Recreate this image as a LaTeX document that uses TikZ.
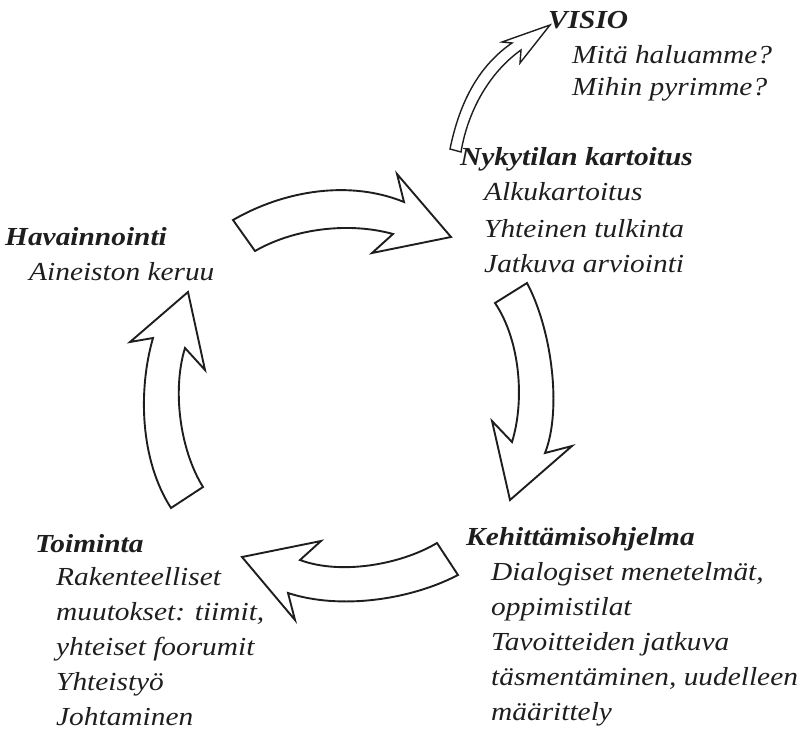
\documentclass[tikz,border=0pt]{standalone}
\usepackage{fontspec}
\setmainfont[FakeStretch=1.13]{Liberation Serif}
\definecolor{ink}{HTML}{1E1E1E}
\begin{document}
\begin{tikzpicture}[x=1pt,y=-1pt,
  bigarrow/.style={draw=ink,line width=1.9pt,fill=white,line join=miter},
  smallarrow/.style={draw=ink,line width=1.4pt,fill=white,line join=miter},
  head/.style={anchor=base west,inner sep=0pt,font=\fontsize{26}{30}\selectfont\bfseries\itshape,text=ink},
  item/.style={anchor=base west,inner sep=0pt,font=\fontsize{26}{30}\selectfont\itshape,text=ink}]
\useasboundingbox (0,0) rectangle (803,731);
% arrows
\draw[bigarrow] (233,220) .. controls (285,190) and (350,180) .. (404,202) -- (397,174) -- (451,237) -- (372,253) -- (393,234) .. controls (350,222) and (295,228) .. (255,251) -- cycle;
\draw[bigarrow] (527,283) .. controls (552,330) and (562,410) .. (545,453) -- (572,446) -- (510,500) -- (492,421) -- (512,442) .. controls (525,400) and (520,340) .. (495,303) -- cycle;
\draw[bigarrow] (437,543) .. controls (400,565) and (340,575) .. (300,560) -- (321,541) -- (242,557) -- (295,620) -- (288,593) .. controls (340,610) and (410,600) .. (458,575) -- cycle;
\draw[bigarrow] (203,487) .. controls (180,450) and (172,390) .. (185,348) -- (205,370) -- (188,292) -- (130,342) -- (153,338) .. controls (138,390) and (140,460) .. (171,508) -- cycle;
\draw[smallarrow] (450,149) .. controls (460,100) and (480,65) .. (512,43) -- (502,42) -- (550,25) -- (520,63) -- (521,50) .. controls (490,72) and (468,110) .. (461,152) -- cycle;
% texts
\node[head] (v0) at (548,28) {VISIO};
\node[item] (v1) at (572,63) {Mitä haluamme?};
\node[item] (v2) at (572,95) {Mihin pyrimme?};
\node[head] (n0) at (460,165) {Nykytilan kartoitus};
\node[item] (n1) at (484,200) {Alkukartoitus};
\node[item] (n2) at (484,237) {Yhteinen tulkinta};
\node[item] (n3) at (484,272) {Jatkuva arviointi};
\node[head] (h0) at (5,245) {Havainnointi};
\node[item] (h1) at (29,280) {Aineiston keruu};
\node[head] (k0) at (466,545) {Kehittämisohjelma};
\node[item] (k1) at (491,580) {Dialogiset menetelmät,};
\node[item] (k2) at (491,615) {oppimistilat};
\node[item] (k3) at (491,650) {Tavoitteiden jatkuva};
\node[item] (k4) at (491,685) {täsmentäminen, uudelleen};
\node[item] (k5) at (491,720) {määrittely};
\node[head] (t0) at (35,552) {Toiminta};
\node[item] (t1) at (56,585) {Rakenteelliset};
\node[item] (t2) at (56,620) {muutokset: tiimit,};
\node[item] (t3) at (56,655) {yhteiset foorumit};
\node[item] (t4) at (56,690) {Yhteistyö};
\node[item] (t5) at (56,725) {Johtaminen};
\end{tikzpicture}
\end{document}
